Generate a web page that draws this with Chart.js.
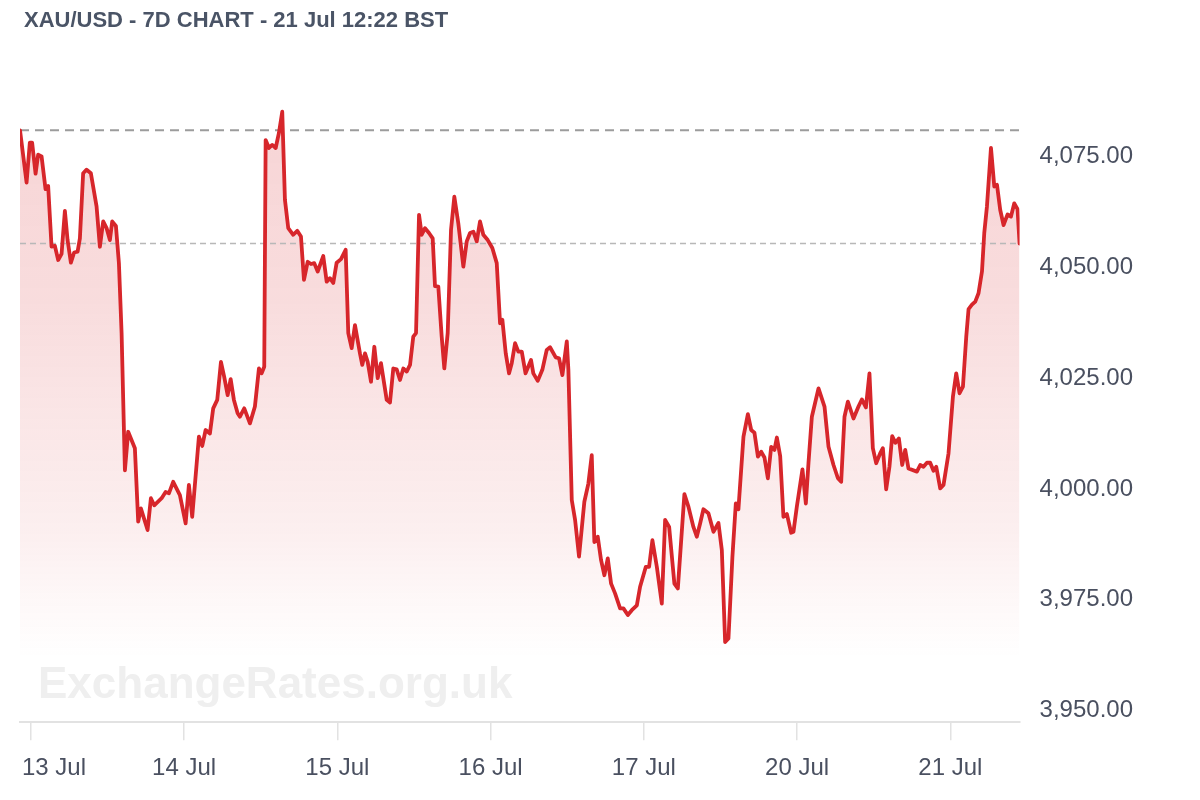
<!DOCTYPE html>
<html><head><meta charset="utf-8">
<script src="https://cdn.jsdelivr.net/npm/chart.js@4.4.1/dist/chart.umd.min.js"></script>
<style>
html,body{margin:0;padding:0;background:#fff;}
#wrap{position:relative;width:1200px;height:800px;overflow:hidden;}
#title{position:absolute;left:24px;top:9px;font:bold 22px 'Liberation Sans',Arial,sans-serif;line-height:22px;color:#4a5466;white-space:nowrap;z-index:2;}
canvas{position:absolute;left:0;top:0;}
</style></head><body>
<div id="wrap"><canvas id="c" width="1200" height="800"></canvas><div id="title">XAU/USD - 7D CHART - 21 Jul 12:22 BST</div></div>
<script>
// trading time in hours from 13 Jul 00:00 (weekend removed)
const hours = [
-1.70,-0.67,-0.16,0.20,0.74,1.14,1.68,2.30,2.71,3.24,3.76,4.28,4.81,5.33,5.75,6.27,6.78,7.32,7.68,8.19,8.73,9.40,10.29,10.81,11.33,11.86,12.38,12.74,13.32,13.79,14.21,14.73,15.24,16.29,16.81,17.23,18.28,18.80,19.32,20.48,21.10,21.62,22.29,23.34,24.24,
24.75,25.27,26.32,26.84,27.37,28.04,28.56,29.19,29.77,30.28,30.82,31.29,31.80,32.38,32.74,33.42,34.31,35.09,35.72,36.14,36.55,36.77,37.29,37.80,38.34,38.85,39.37,39.79,40.31,41.09,41.72,42.30,42.77,43.35,43.87,44.38,44.92,45.79,46.33,46.84,47.36,47.89,48.57,49.30,49.71,50.24,50.76,51.54,
51.90,52.33,52.75,53.27,53.79,54.32,54.83,55.73,56.24,56.76,57.29,57.81,58.33,58.86,59.38,59.89,60.32,60.79,61.21,61.73,62.35,62.93,63.29,63.81,64.34,64.75,65.28,65.80,66.32,66.94,67.73,68.26,68.78,69.30,69.83,70.34,70.86,71.55,72.27,72.96,73.48,73.84,74.37,74.89,75.31,75.83,76.34,76.88,
77.47,78.33,78.69,79.38,80.10,80.79,81.31,82.20,82.72,83.24,83.93,84.18,84.71,85.23,85.85,86.68,87.31,87.84,88.25,88.78,89.30,89.82,90.35,90.87,91.49,92.28,92.80,93.49,94.11,94.90,95.41,96.31,96.82,97.34,98.03,98.81,99.33,99.96,100.78,101.32,102.35,102.98,103.76,104.29,104.81,
105.33,106.11,106.90,107.68,108.21,108.73,109.25,109.87,110.40,110.81,111.60,112.29,112.81,113.32,113.86,114.37,114.89,115.42,115.94,116.45,116.83,117.35,117.86,118.40,119.07,119.43,119.96,120.84,121.37,121.78,122.31,123.35,124.29,124.92,125.70,126.39,126.90,127.42,127.95,128.83,129.61,130.14,130.77,131.33,131.86,132.38,133.00,133.43,133.95,134.46,134.89,135.40,135.94,136.46,136.93,137.44,138.76,139.28,139.79,140.33,140.84,141.36,141.79,142.41,142.93,143.71,144.40,144.92,145.44,145.97,146.49,146.85,147.38,147.90,148.41,148.95,149.31,149.73,150.36,150.88,151.30,151.81,152.33,152.96,153.49,154.01,154.52,154.84
];
const prices = [
4081.0,4069.2,4078.2,4078.2,4071.2,4075.5,4075.1,4067.7,4068.4,4054.7,4054.9,4051.7,4053.1,4062.8,4056.2,4051.1,4053.4,4053.6,4056.6,4071.3,4072.1,4071.3,4063.8,4054.7,4060.4,4058.9,4056.2,4060.4,4059.4,4051.0,4035.2,4004.2,4012.9,4009.2,3992.6,3995.6,3990.7,3997.9,3996.3,3997.9,3999.3,3999.0,4001.6,3998.6,3992.2,
4000.9,3993.7,4011.8,4009.7,4013.3,4012.5,4018.2,4020.1,4028.7,4025.3,4021.2,4024.8,4020.1,4017.1,4016.3,4018.2,4014.8,4018.6,4027.2,4026.1,4027.6,4078.8,4077.0,4077.7,4077.0,4080.4,4085.2,4065.3,4058.9,4057.4,4058.3,4057.0,4047.2,4051.3,4050.8,4051.0,4049.1,4052.6,4046.8,4047.6,4046.5,4051.1,4051.9,4054.0,4035.2,4031.8,4037.0,4030.6,
4028.0,4030.6,4028.7,4024.2,4032.1,4025.0,4028.4,4020.1,4019.5,4027.2,4027.0,4024.6,4027.2,4026.5,4028.0,4034.4,4035.2,4061.9,4057.4,4058.9,4057.8,4056.6,4045.8,4045.7,4034.4,4027.2,4035.2,4058.5,4066.0,4060.0,4050.2,4055.9,4057.8,4058.1,4055.9,4060.4,4057.4,4056.2,4054.4,4051.0,4037.4,4038.2,4030.6,4026.1,4028.4,4032.9,4031.0,4031.0,
4026.1,4029.1,4026.1,4024.4,4026.9,4031.4,4032.0,4029.7,4029.5,4025.7,4033.3,4026.9,3997.5,3993.0,3984.7,3997.1,4001.2,4007.6,3988.0,3989.2,3983.9,3980.5,3984.3,3978.6,3976.4,3973.0,3973.0,3971.5,3972.6,3973.7,3977.9,3982.4,3982.4,3988.4,3982.4,3974.1,3993.0,3991.4,3978.6,3977.5,3998.8,3996.0,3991.4,3989.2,3992.2,
3995.4,3994.5,3990.3,3992.3,3986.2,3965.4,3966.2,3984.7,3996.7,3995.4,4011.8,4016.9,4013.3,4012.7,4007.3,4008.4,4007.1,4002.4,4009.5,4008.8,4011.6,4007.4,3993.7,3994.3,3990.1,3990.3,3996.0,4004.4,3996.7,4005.8,4016.3,4022.7,4018.6,4009.5,4005.4,4002.4,4001.6,4016.3,4019.7,4015.9,4018.6,4020.2,4018.4,4026.1,4009.2,4005.8,4008.0,4009.2,3999.9,4005.0,4011.9,4010.4,4011.4,4005.4,4008.8,4004.6,4003.9,4005.4,4005.0,4005.9,4005.9,4004.1,4005.0,4000.1,4000.9,4008.0,4020.8,4026.1,4021.6,4023.1,4034.4,4040.6,4041.6,4042.3,4044.2,4049.1,4057.8,4063.8,4077.0,4068.3,4068.7,4063.0,4059.6,4062.0,4061.5,4064.5,4063.2,4055.4
];
const xTickHours = [0, 24, 48, 72, 96, 120, 144];
const xTickLabels = ['13 Jul', '14 Jul', '15 Jul', '16 Jul', '17 Jul', '20 Jul', '21 Jul'];
const yTickValues = [3950, 3975, 4000, 4025, 4050, 4075];
const yMin = 3947.3;
const yMax = 4090.1;
const watermarkText = 'ExchangeRates.org.uk';

const FONT = "'Liberation Sans', Arial, sans-serif";
Chart.defaults.font.family = FONT;

const lastIdx = prices.length - 1;
const series = hours.map((h, i) => ({ x: h, y: prices[i] }));
const openLine = [{ x: hours[0], y: prices[0] }, { x: hours[lastIdx], y: prices[0] }];
const lastLine = [{ x: hours[0], y: prices[lastIdx] }, { x: hours[lastIdx], y: prices[lastIdx] }];

function fillGradient(ctx) {
  const chart = ctx.chart;
  const ca = chart.chartArea;
  if (!ca) return 'rgba(214,38,43,0.1)';
  const g = chart.ctx.createLinearGradient(0, ca.top, 0, ca.bottom);
  g.addColorStop(0, 'rgba(214,38,43,0.20)');
  g.addColorStop(0.33, 'rgba(214,38,43,0.16)');
  g.addColorStop(0.71, 'rgba(214,38,43,0.07)');
  g.addColorStop(0.81, 'rgba(214,38,43,0.03)');
  g.addColorStop(0.9, 'rgba(214,38,43,0)');
  g.addColorStop(1, 'rgba(214,38,43,0)');
  return g;
}

const watermark = {
  id: 'watermark',
  beforeDatasetsDraw(chart) {
    const { ctx, chartArea } = chart;
    ctx.save();
    ctx.font = "bold 44px " + FONT;
    ctx.fillStyle = '#efefef';
    ctx.textAlign = 'left';
    ctx.textBaseline = 'alphabetic';
    ctx.fillText(watermarkText, chartArea.left + 18, chartArea.bottom - 24);
    ctx.restore();
  }
};

const firstLabel = {
  id: 'firstLabel',
  beforeDraw(chart) {
    const s = chart.scales.x;
    const items = s.getLabelItems();
    if (items && items.length) {
      items[0].options.textAlign = 'left';
      items[0].options.translation[0] = chart.chartArea.left + 2;
    }
  }
};

new Chart(document.getElementById('c'), {
  type: 'line',
  data: {
    datasets: [
      { data: series, borderColor: '#d7262b', borderWidth: 3.8, pointRadius: 0, tension: 0,
        fill: 'start', backgroundColor: fillGradient, borderJoinStyle: 'round', borderCapStyle: 'round', order: 1 },
      { data: openLine, borderColor: '#9c9c9c', borderWidth: 2, borderDash: [9, 6], pointRadius: 0, fill: false, order: 2 },
      { data: lastLine, borderColor: '#b8b8b8', borderWidth: 1.5, borderDash: [6, 4], pointRadius: 0, fill: false, order: 3 }
    ]
  },
  options: {
    responsive: false,
    animation: false,
    layout: { padding: { left: 20, right: 47, top: 90, bottom: 3 } },
    plugins: {
      legend: { display: false },
      tooltip: { enabled: false },
      filler: { drawTime: 'beforeDatasetsDraw' }
    },
    scales: {
      x: {
        type: 'linear',
        min: hours[0],
        max: hours[lastIdx],
        afterBuildTicks: (scale) => { scale.ticks = xTickHours.map(v => ({ value: v })); },
        afterFit: (scale) => { scale.paddingLeft = 0; scale.paddingRight = 0; },
        grid: { display: true, drawOnChartArea: false, drawTicks: true, tickLength: 18, color: '#e2e2e2', lineWidth: 1.5 },
        border: { display: true, color: '#e2e2e2', width: 2 },
        ticks: {
          autoSkip: false, maxRotation: 0, padding: 14,
          font: { size: 24 }, color: '#4a5060',
          callback: (v, i) => xTickLabels[i]
        }
      },
      y: {
        type: 'linear',
        position: 'right',
        min: yMin,
        max: yMax,
        afterBuildTicks: (scale) => { scale.ticks = yTickValues.map(v => ({ value: v })); },
        grid: { display: false, drawTicks: false },
        border: { display: false },
        ticks: {
          padding: 20, font: { size: 24 }, color: '#4a5060',
          callback: (v) => Number(v).toLocaleString('en-US', { minimumFractionDigits: 2, maximumFractionDigits: 2 })
        }
      }
    }
  },
  plugins: [watermark, firstLabel]
});
</script>
</body></html>
